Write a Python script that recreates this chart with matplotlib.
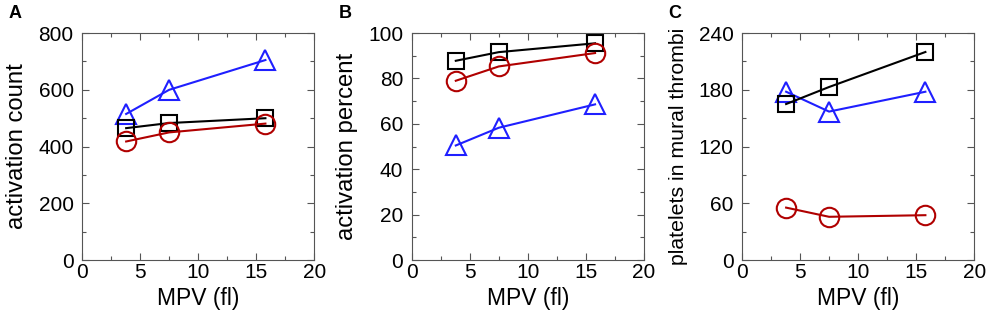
import matplotlib
matplotlib.use("Agg")
import matplotlib.pyplot as plt
from matplotlib.ticker import MultipleLocator

plt.rcParams["font.family"] = ["Liberation Sans", "DejaVu Sans"]

mpv = [3.8, 7.5, 15.8]

# panel A: activation count
count_black = [465, 483, 500]
count_red = [418, 450, 481]
count_blue = [515, 600, 705]

# panel B: activation percent
pct_black = [87.8, 91.6, 95.5]
pct_red = [79.0, 85.3, 91.2]
pct_blue = [50.5, 58.3, 68.6]

# panel C: platelets in mural thrombi
thr_black = [165, 183, 220]
thr_red = [55.5, 45.8, 47.5]
thr_blue = [178, 157, 178]

BLUE = "#1f1fff"
RED = "#b00000"

panels = [
    ("A", "activation count", 17.2, (0, 800), 200, 100, count_black, count_red, count_blue),
    ("B", "activation percent", 17.2, (0, 100), 20, 10, pct_black, pct_red, pct_blue),
    ("C", "platelets in mural thrombi", 15.3, (0, 240), 60, 30, thr_black, thr_red, thr_blue),
]

fig = plt.figure(figsize=(9.92, 3.18), dpi=100)
lefts = [0.0827, 0.415, 0.748]

for left, (letter, ylab, yfs, ylim, major, minor, yb, yr, yl) in zip(lefts, panels):
    ax = fig.add_axes([left, 0.182, 0.234, 0.714])
    ax.plot(mpv, yl, color=BLUE, lw=1.5, marker="^", ms=14, mfc="none", mew=1.5)
    ax.plot(mpv, yb, color="black", lw=1.5, marker="s", ms=11, mfc="none", mew=1.5)
    ax.plot(mpv, yr, color=RED, lw=1.5, marker="o", ms=14, mfc="none", mew=1.5)
    ax.set_xlim(0, 20)
    ax.set_ylim(*ylim)
    ax.xaxis.set_major_locator(MultipleLocator(5))
    ax.xaxis.set_minor_locator(MultipleLocator(2.5))
    ax.yaxis.set_major_locator(MultipleLocator(major))
    ax.yaxis.set_minor_locator(MultipleLocator(minor))
    ax.tick_params(which="both", direction="in", top=True, right=True,
                   labelsize=15, width=0.8, color="#555555")
    ax.tick_params(which="major", length=5)
    ax.tick_params(which="minor", length=3)
    ax.tick_params(axis="x", pad=2)
    ax.tick_params(axis="y", pad=6)
    for s in ax.spines.values():
        s.set_color("#555555")
        s.set_linewidth(0.8)
    ax.set_xlabel("MPV (fl)", fontsize=16.5)
    ax.set_ylabel(ylab, fontsize=yfs)
    ax.xaxis.set_label_coords(0.5, -0.12)
    ax.yaxis.set_label_coords(-0.232, 0.5)
    fig.text(left - 0.074, 0.959, letter, fontsize=13, fontweight="bold",
             ha="left", va="center")

fig.savefig("out.png", dpi=100)
